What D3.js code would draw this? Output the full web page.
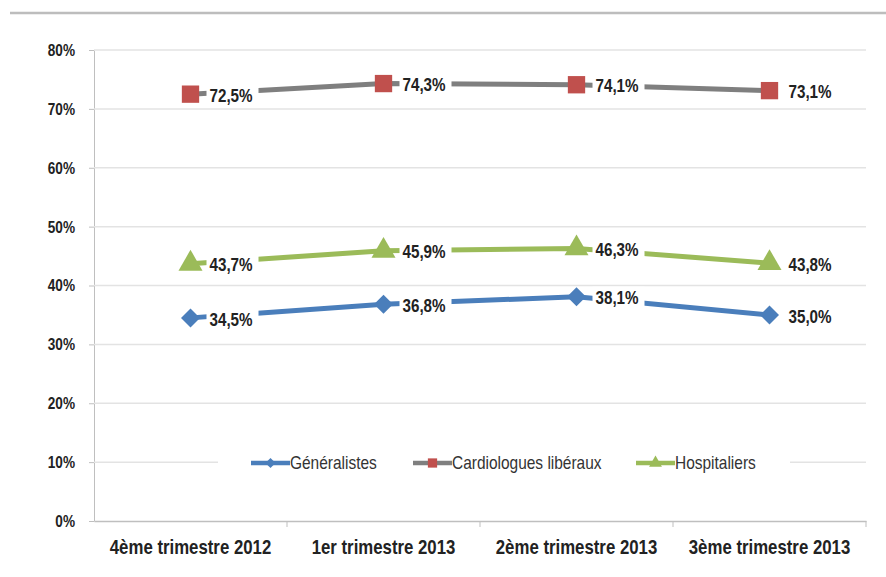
<!DOCTYPE html>
<html>
<head>
<meta charset="utf-8">
<script src="https://cdn.jsdelivr.net/npm/d3@7"></script>
<style>
  body { margin: 0; background: #fff; }
  svg text { font-family: "Liberation Sans Narrow", "Arial Narrow", "Liberation Sans", sans-serif; }
</style>
</head>
<body>
<div id="chart"></div>
<script>
const width = 886,
    height = 577,
    margin = ({ top: 50, right: 20, bottom: 56, left: 94 });

const categories = ["4ème trimestre 2012", "1er trimestre 2013", "2ème trimestre 2013", "3ème trimestre 2013"];
const generalistes = [34.5, 36.8, 38.1, 35.0];
const cardiologues = [72.5, 74.3, 74.1, 73.1];
const hospitaliers = [43.7, 45.9, 46.3, 43.8];
const yTicks = [0, 10, 20, 30, 40, 50, 60, 70, 80];

const series = [
  { name: "Généralistes", values: generalistes, line: "#4a7ebb", fill: "#4a7ebb", symbol: "diamond" },
  { name: "Cardiologues libéraux", values: cardiologues, line: "#7f7f7f", fill: "#c0504d", symbol: "square" },
  { name: "Hospitaliers", values: hospitaliers, line: "#9bbb59", fill: "#9bbb59", symbol: "triangle" }
];

const sx = 0.8;  // squeeze text horizontally (narrow font look)

const svg = d3.select("#chart")
    .append("svg")
    .attr("width", width)
    .attr("height", height);

// top rule
svg.append("line")
    .attr("x1", 10).attr("x2", width)
    .attr("y1", 13).attr("y2", 13)
    .attr("stroke", "#bdbdbd")
    .attr("stroke-width", 2.5);

let x = d3.scaleBand()
    .domain(categories)
    .range([margin.left, width - margin.right]);

let y = d3.scaleLinear()
    .domain([0, 80])
    .range([height - margin.bottom, margin.top]);

// gridlines + y axis
const yAxis = svg.append("g")
    .attr("transform", `translate(${margin.left},0)`)
    .call(d3.axisLeft(y).tickValues(yTicks).tickFormat(d => d + "%").tickSize(5).tickSizeOuter(0));
yAxis.select(".domain").attr("stroke", "#bfbfbf");
yAxis.selectAll(".tick line").attr("stroke", "#bfbfbf");
yAxis.selectAll(".tick text")
    .attr("x", -19 / sx)
    .attr("transform", `scale(${sx},1)`)
    .attr("font-size", 17)
    .attr("font-weight", "bold")
    .attr("fill", "#222");

svg.append("g")
    .selectAll("line")
    .data(yTicks.filter(d => d > 0))
    .join("line")
    .attr("x1", margin.left).attr("x2", width - margin.right)
    .attr("y1", d => y(d)).attr("y2", d => y(d))
    .attr("stroke", "#e3e3e3")
    .attr("stroke-width", 1.5);

// x axis
const xAxis = svg.append("g")
    .attr("transform", `translate(0,${height - margin.bottom})`)
    .call(d3.axisBottom(x).tickSize(0).tickSizeOuter(0));
xAxis.select(".domain").attr("stroke", "#bfbfbf").attr("stroke-width", 1.5);
xAxis.selectAll(".tick text")
    .attr("y", 19)
    .attr("transform", "scale(0.84,1)")
    .attr("font-size", 20)
    .attr("font-weight", "bold")
    .attr("fill", "#222");
xAxis.selectAll(".sep")
    .data(categories)
    .join("line")
    .attr("class", "sep")
    .attr("x1", d => x(d) + x.bandwidth()).attr("x2", d => x(d) + x.bandwidth())
    .attr("y1", 0).attr("y2", 6)
    .attr("stroke", "#bfbfbf");

const cx = i => x(categories[i]) + x.bandwidth() / 2;

const symbolType = { diamond: d3.symbolDiamond2, square: d3.symbolSquare, triangle: d3.symbolTriangle };
const symbolSize = { diamond: 230, square: 300, triangle: 250 };

// legend
const legendY = 463;
const lsx = 0.86;
svg.append("rect")
    .attr("x", 218).attr("y", legendY - 12)
    .attr("width", 572).attr("height", 24)
    .attr("fill", "#fff");
const legendX = [251, 413, 636];
series.forEach((s, k) => {
  const g = svg.append("g").attr("transform", `translate(${legendX[k]},${legendY})`);
  g.append("line").attr("x1", 0).attr("x2", 39)
      .attr("stroke", s.line).attr("stroke-width", 4.5);
  g.append("path")
      .attr("transform", "translate(19.5,0)")
      .attr("d", d3.symbol(symbolType[s.symbol], symbolSize[s.symbol] / 3.5)())
      .attr("fill", s.fill);
  g.append("text").attr("x", 39 / lsx).attr("dy", "0.35em")
      .attr("transform", `scale(${lsx},1)`)
      .attr("font-size", 18).attr("fill", "#333")
      .text(s.name);
});

// lines
let line = d3.line()
    .x((d, i) => cx(i))
    .y(d => y(d));

series.forEach(s => {
  svg.append("path")
      .datum(s.values)
      .attr("d", line)
      .attr("fill", "none")
      .attr("stroke", s.line)
      .attr("stroke-width", 5);
});

// labels with white background
series.forEach(s => {
  const lab = svg.append("g").selectAll("g")
      .data(s.values)
      .join("g")
      .attr("transform", (d, i) => `translate(${cx(i) + 19},${y(d) + 1})`);
  lab.append("rect")
      .attr("x", -3).attr("y", -11)
      .attr("width", 52).attr("height", 22)
      .attr("fill", "#fff");
  lab.append("text")
      .attr("dy", "0.35em")
      .attr("transform", `scale(${sx},1)`)
      .attr("font-size", 19)
      .attr("font-weight", "bold")
      .attr("fill", "#222")
      .text(d => d3.format(".1f")(d).replace(".", ",") + "%");
});

// markers
series.forEach(s => {
  svg.append("g").selectAll("path")
      .data(s.values)
      .join("path")
      .attr("transform", (d, i) => `translate(${cx(i)},${y(d)})`)
      .attr("d", d3.symbol(symbolType[s.symbol], symbolSize[s.symbol])())
      .attr("fill", s.fill);
});
</script>
</body>
</html>
